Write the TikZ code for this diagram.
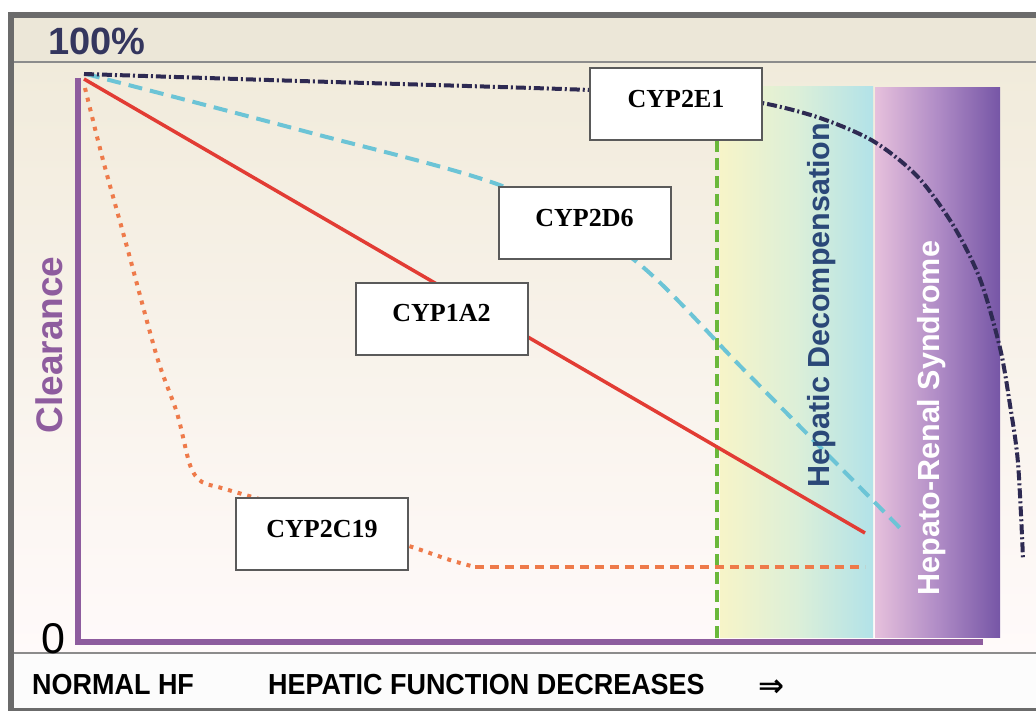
\documentclass[tikz,border=0pt]{standalone}
\usepackage{fontspec}
\setmainfont{Liberation Sans}
\newfontfamily\serifb{Liberation Serif}
\newfontfamily\djv{DejaVu Sans}
\usepackage{graphicx}
\definecolor{framegray}{HTML}{6B6B6B}
\definecolor{sepgray}{HTML}{8C8C8C}
\definecolor{headbg}{HTML}{ECE7D8}
\definecolor{bgtop}{HTML}{F1EBDB}
\definecolor{bgbot}{HTML}{FFFAFA}
\definecolor{bandbg}{HTML}{FCFCFC}
\definecolor{axispurple}{HTML}{8E5C9E}
\definecolor{navytext}{HTML}{34365E}
\definecolor{navyline}{HTML}{2E2A52}
\definecolor{cyanline}{HTML}{6CC4D6}
\definecolor{redline}{HTML}{E23C34}
\definecolor{orangeline}{HTML}{EE7A4A}
\definecolor{greenline}{HTML}{6AB83A}
\definecolor{decyellow}{HTML}{F7F4C8}
\definecolor{decmid}{HTML}{DCEFD8}
\definecolor{deccyan}{HTML}{B2E2E8}
\definecolor{hrlight}{HTML}{E6C0DC}
\definecolor{hrmid}{HTML}{B08CC6}
\definecolor{hrdark}{HTML}{7656A6}
\definecolor{dectext}{HTML}{2B4878}
\definecolor{boxborder}{HTML}{5A5A5A}
\tikzset{
  cypbox/.style={draw=boxborder, line width=2pt, fill=white, inner sep=0pt,
    minimum width=172pt, minimum height=72pt},
  cyplabel/.style={font=\serifb\bfseries\fontsize{26}{26}\selectfont, inner sep=0pt},
  bandtext/.style={font=\bfseries\fontsize{29}{29}\selectfont, inner sep=0pt, anchor=base west},
  curvenavy/.style={navyline, line width=4pt, dash pattern=on 10pt off 3pt on 2pt off 3pt},
  curvecyan/.style={cyanline, line width=4pt, dash pattern=on 14pt off 8pt},
  curvered/.style={redline, line width=3.5pt},
  curveorangedot/.style={orangeline, line width=4pt, dash pattern=on 4pt off 6pt},
  curveorangedash/.style={orangeline, line width=4pt, dash pattern=on 9pt off 6pt},
  divider/.style={greenline, line width=4pt, dash pattern=on 12pt off 6pt}
}
\begin{document}
\begin{tikzpicture}[x=1pt,y=-1pt]
\useasboundingbox (0,0) rectangle (1036,711);
\fill[white] (0,0) rectangle (1036,711);
% panels
\fill[headbg] (14,18) rectangle (1036,62);
\shade[top color=bgtop, bottom color=bgbot] (14,62) rectangle (1036,653);
\fill[bandbg] (14,653) rectangle (1036,708);
% frame
\draw[framegray, line width=6pt] (8,15) -- (1036,15);
\draw[framegray, line width=6pt] (11,12) -- (11,711);
\draw[framegray, line width=3pt] (8,709) -- (1036,709);
\draw[sepgray, line width=2.5pt] (14,62) -- (1036,62);
\draw[sepgray, line width=2.5pt] (14,653) -- (1036,653);
% axes
\draw[axispurple, line width=6pt] (78,78) -- (78,642) -- (983,642);
% stage regions
\shade[left color=decyellow, right color=deccyan, middle color=decmid] (720,87) rectangle (873,637);
\shade[left color=hrlight, right color=hrdark, middle color=hrmid] (875,88) rectangle (1000,637);
% divider
\draw[divider] (717,140) -- (717,640);
% curves
\draw[curvered] (84,79) -- (865,533);
\draw[curvecyan] plot[smooth, tension=0.5] coordinates {(86,74) (300,130) (505,187) (633,259) (747,373) (902,530)};
\draw[curveorangedot] plot[smooth, tension=0.5] coordinates {(85,88) (103,160) (127,247) (157,357) (177,413) (190,465) (202,482) (225,489) (330,520) (415,548) (450,560) (475,567)};
\draw[curveorangedash] (475,567) -- (865,567);
\draw[curvenavy] plot[smooth, tension=0.5] coordinates {(84,74) (300,81) (590,90) (700,97) (762,103) (820,118) (873,141) (917,176) (953,225) (980,279) (1000,348) (1010,405) (1018,463) (1023,558)};
% boxes
\node[cypbox] (e1) at (676,104) {};
\node[cyplabel] (e1t) at (676,99) {CYP2E1};
\node[cypbox] (d6) at (584.5,223) {};
\node[cyplabel] (d6t) at (584.5,218) {CYP2D6};
\node[cypbox] (a2) at (441.5,319) {};
\node[cyplabel] (a2t) at (441.5,313) {CYP1A2};
\node[cypbox] (c19) at (322,533.5) {};
\node[cyplabel] (c19t) at (322,529) {CYP2C19};
% region labels
\node[rotate=90, anchor=base, text=dectext, font=\bfseries\fontsize{30.5}{30.5}\selectfont, inner sep=0pt] (dec) at (829,305) {Hepatic Decompensation};
\node[rotate=90, anchor=base, text=white, font=\bfseries\fontsize{30.5}{30.5}\selectfont, inner sep=0pt] (hrs) at (939,418) {Hepato-Renal Syndrome};
% axis labels
\node[rotate=90, anchor=base, text=axispurple, font=\bfseries\fontsize{37}{37}\selectfont, inner sep=0pt] (clr) at (62,345) {Clearance};
\node[anchor=base, font=\fontsize{43}{43}\selectfont, inner sep=0pt] (zero) at (53,653) {0};
\node[anchor=base west, text=navytext, font=\bfseries\fontsize{38}{38}\selectfont, inner sep=0pt] (hundred) at (48,55) {100\%};
% band texts
\node[bandtext] (normal) at (32,694) {\scalebox{0.93}[1]{NORMAL HF}};
\node[bandtext] (decr) at (268,694) {\scalebox{0.93}[1]{HEPATIC FUNCTION DECREASES}};
\node[anchor=base west, font=\djv\bfseries\fontsize{31}{31}\selectfont, inner sep=0pt] (arr) at (758,696) {⇒};
\end{tikzpicture}
\end{document}
